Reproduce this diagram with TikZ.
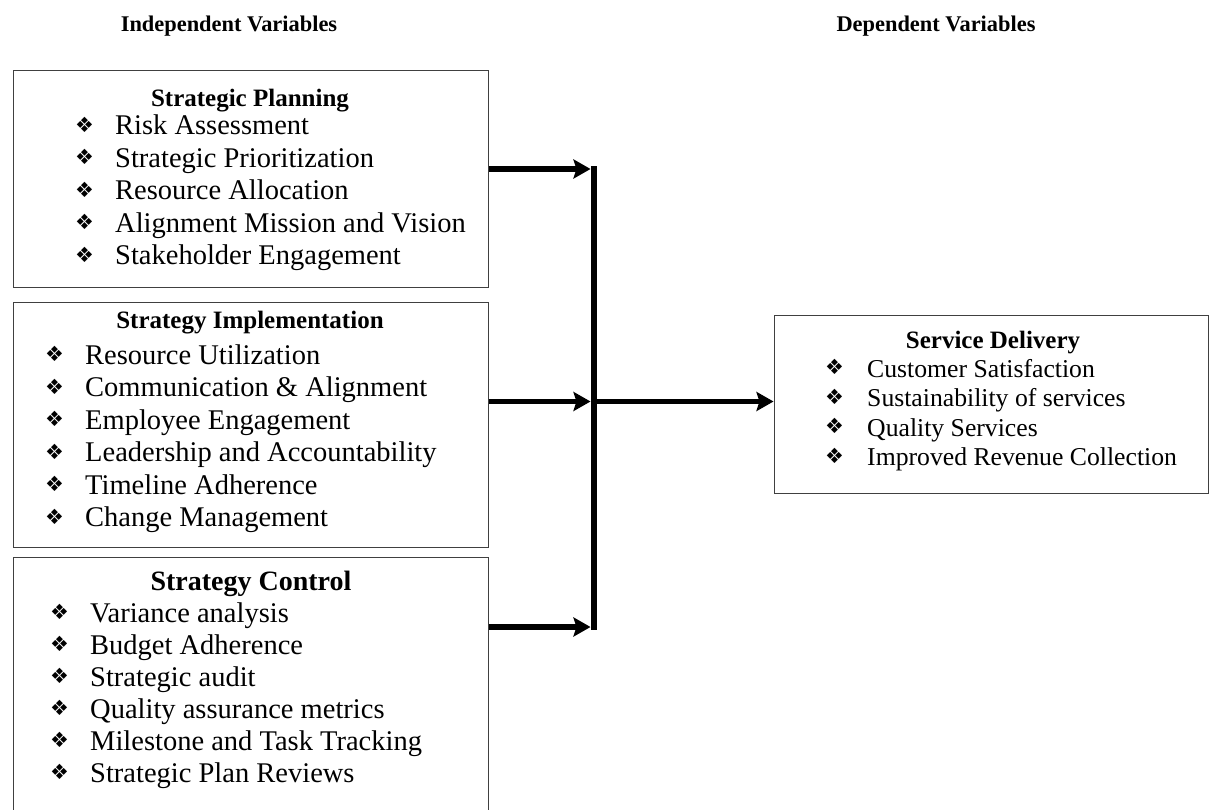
\documentclass[tikz,border=0pt]{standalone}
\usepackage{fontspec}
\setmainfont{Liberation Serif}
\newfontfamily\symfont{DejaVu Sans}
\usetikzlibrary{arrows.meta}

\newcommand{\dia}[1][40pt]{\makebox[#1][l]{\raisebox{2.5pt}{\symfont\fontsize{21}{21}\selectfont ❖}}}

\tikzset{
  box/.style={draw=black!75, line width=1pt, minimum width=475pt, inner sep=0pt},
  title/.style={font=\bfseries\fontsize{25}{30}\selectfont, anchor=base, inner sep=0pt},
  item/.style={font=\fontsize{28.5}{32}\selectfont, anchor=base west, inner sep=0pt},
  flow/.style={line width=5.5pt, -{Stealth[length=17pt,width=19pt,inset=3pt]}},
}

\begin{document}
\begin{tikzpicture}[x=1pt,y=-1pt]
  \useasboundingbox (0,0) rectangle (1209,810);

  % headings
  \node[title, font=\bfseries\fontsize{22.4}{26}\selectfont] (indep) at (229,32) {Independent Variables};
  \node[title, font=\bfseries\fontsize{22.4}{26}\selectfont] (dep) at (936,32) {Dependent Variables};

  % boxes
  \node[box, minimum height=216pt] (plan) at (250.5,179) {};
  \node[box, minimum height=245pt] (impl) at (250.5,424.5) {};
  \node[box, minimum height=273pt] (ctrl) at (250.5,693.5) {};
  \node[box, minimum width=434pt, minimum height=178pt] (serv) at (991,404) {};

  % box titles
  \node[title] (planT) at (250,107) {Strategic Planning};
  \node[title] (implT) at (250,328) {Strategy Implementation};
  \node[title, font=\bfseries\fontsize{28}{32}\selectfont] (ctrlT) at (251,590) {Strategy Control};
  \node[title] (servT) at (993,348) {Service Delivery};

  % bullet lists
  \foreach \t [count=\i] in {Risk Assessment, Strategic Prioritization, Resource Allocation,
      Alignment Mission and Vision, Stakeholder Engagement}
    \node[item] (plan\i) at (75,{102.5+32.5*\i}) {\dia\t};
  \foreach \t [count=\i] in {Resource Utilization, Communication \& Alignment, Employee Engagement,
      Leadership and Accountability, Timeline Adherence, Change Management}
    \node[item] (impl\i) at (45,{331.5+32.5*\i}) {\dia\t};
  \foreach \t [count=\i] in {Variance analysis, Budget Adherence, Strategic audit,
      Quality assurance metrics, Milestone and Task Tracking, Strategic Plan Reviews}
    \node[item] (ctrl\i) at (50,{590+32*\i}) {\dia\t};
  \foreach \t [count=\i] in {Customer Satisfaction, Sustainability of services, Quality Services,
      Improved Revenue Collection}
    \node[item, font=\fontsize{25.7}{29.5}\selectfont] (serv\i) at (825,{347.5+29.5*\i}) {\dia[42pt]\t};

  % connectors
  \coordinate (j1) at (593.5,169);
  \coordinate (j2) at (593.5,401.5);
  \coordinate (j3) at (593.5,627);
  \draw[flow] (plan.east |- j1) -- ([xshift=-3pt]j1);
  \draw[flow] (impl.east |- j2) -- ([xshift=-3pt]j2);
  \draw[flow] (ctrl.east |- j3) -- ([xshift=-3pt]j3);
  \draw[line width=6pt] ([yshift=2.5pt]j1) -- ([yshift=-2.5pt]j3);
  \draw[flow] (j2) -- (serv.west |- j2);
\end{tikzpicture}
\end{document}
